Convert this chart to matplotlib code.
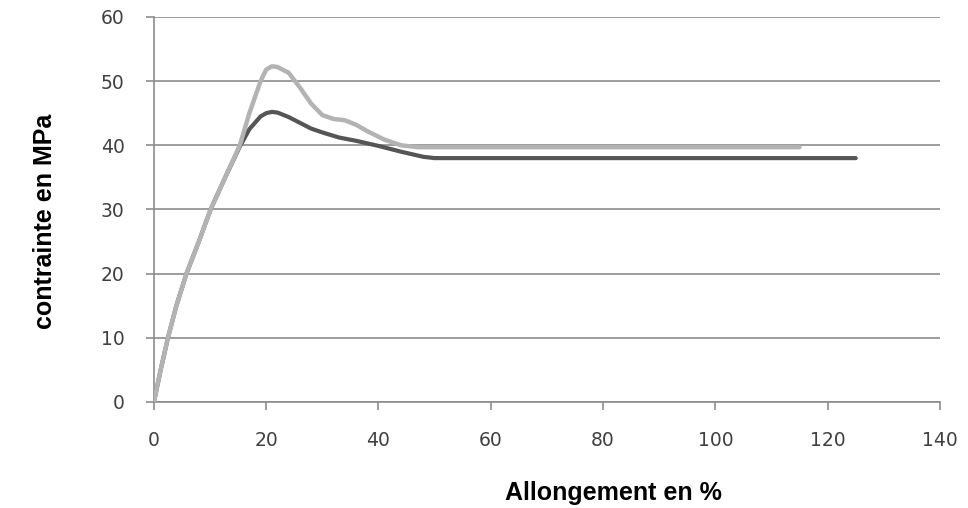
import matplotlib
matplotlib.use("Agg")
import matplotlib.pyplot as plt

# données (allongement %, contrainte MPa)
allong_clair = [0, 1.2, 2.5, 4, 5.8, 8, 10.1, 12.7, 15.3, 17, 19, 20, 21, 22, 24, 26, 28, 30, 32, 34, 36, 38, 41, 44, 47, 50, 60, 80, 100, 115]
contr_clair = [0, 5, 10, 15, 20, 25, 30, 35, 40, 45, 50, 51.8, 52.3, 52.2, 51.3, 49, 46.5, 44.7, 44.1, 43.9, 43.2, 42.2, 40.9, 40.0, 39.7, 39.7, 39.7, 39.7, 39.7, 39.7]
allong_fonce = [0, 1.2, 2.5, 4, 5.8, 8, 10.1, 12.7, 15.3, 17, 19, 20, 21, 22, 24, 26, 28, 30, 33, 36, 40, 44, 48, 50, 55, 80, 100, 125]
contr_fonce = [0, 5, 10, 15, 20, 25, 30, 35, 39.8, 42.5, 44.5, 45.0, 45.2, 45.1, 44.4, 43.5, 42.6, 42.0, 41.2, 40.7, 39.9, 39.0, 38.2, 38.0, 38.0, 38.0, 38.0, 38.0]

x_ticks = list(range(0, 141, 20))
y_ticks = list(range(0, 61, 10))

fig = plt.figure(figsize=(9.68, 5.08), dpi=100)
ax = fig.add_axes([0.159, 0.2087, 0.812, 0.758])

ax.plot(allong_fonce, contr_fonce, color="#555555", lw=3.0, solid_capstyle="round", zorder=3)
ax.plot(allong_clair, contr_clair, color="#b3b3b3", lw=3.2, solid_capstyle="round", zorder=4)

ax.set_xlim(0, 140)
ax.set_ylim(0, 60)
ax.set_xticks(x_ticks)
ax.set_yticks(y_ticks)
ax.grid(axis="y", color="#8c8c8c", lw=1.2)
ax.set_axisbelow(True)

for s in ["top", "right"]:
    ax.spines[s].set_visible(False)
for s in ["left", "bottom"]:
    ax.spines[s].set_color("#8c8c8c")
    ax.spines[s].set_linewidth(1.2)

ax.tick_params(axis="both", direction="out", length=6, width=1.2, color="#8c8c8c",
               labelsize=13.5, labelcolor="#404040")
ax.tick_params(axis="x", pad=15)
ax.tick_params(axis="y", pad=15)
for lab in ax.get_xticklabels() + ax.get_yticklabels():
    lab.set_family("DejaVu Sans")

# titres des axes placés à la main comme dans l'original
lab_font = dict(family=["Liberation Sans", "DejaVu Sans"], fontsize=18, fontweight="bold")
fig.text(613 / 968, 1 - 493 / 508, "Allongement en %", ha="center", va="center", **lab_font)
fig.text(45 / 968, 1 - 221 / 508, "contrainte en MPa", ha="center", va="center",
         rotation=90, **lab_font)

fig.savefig("out.png", dpi=100)
